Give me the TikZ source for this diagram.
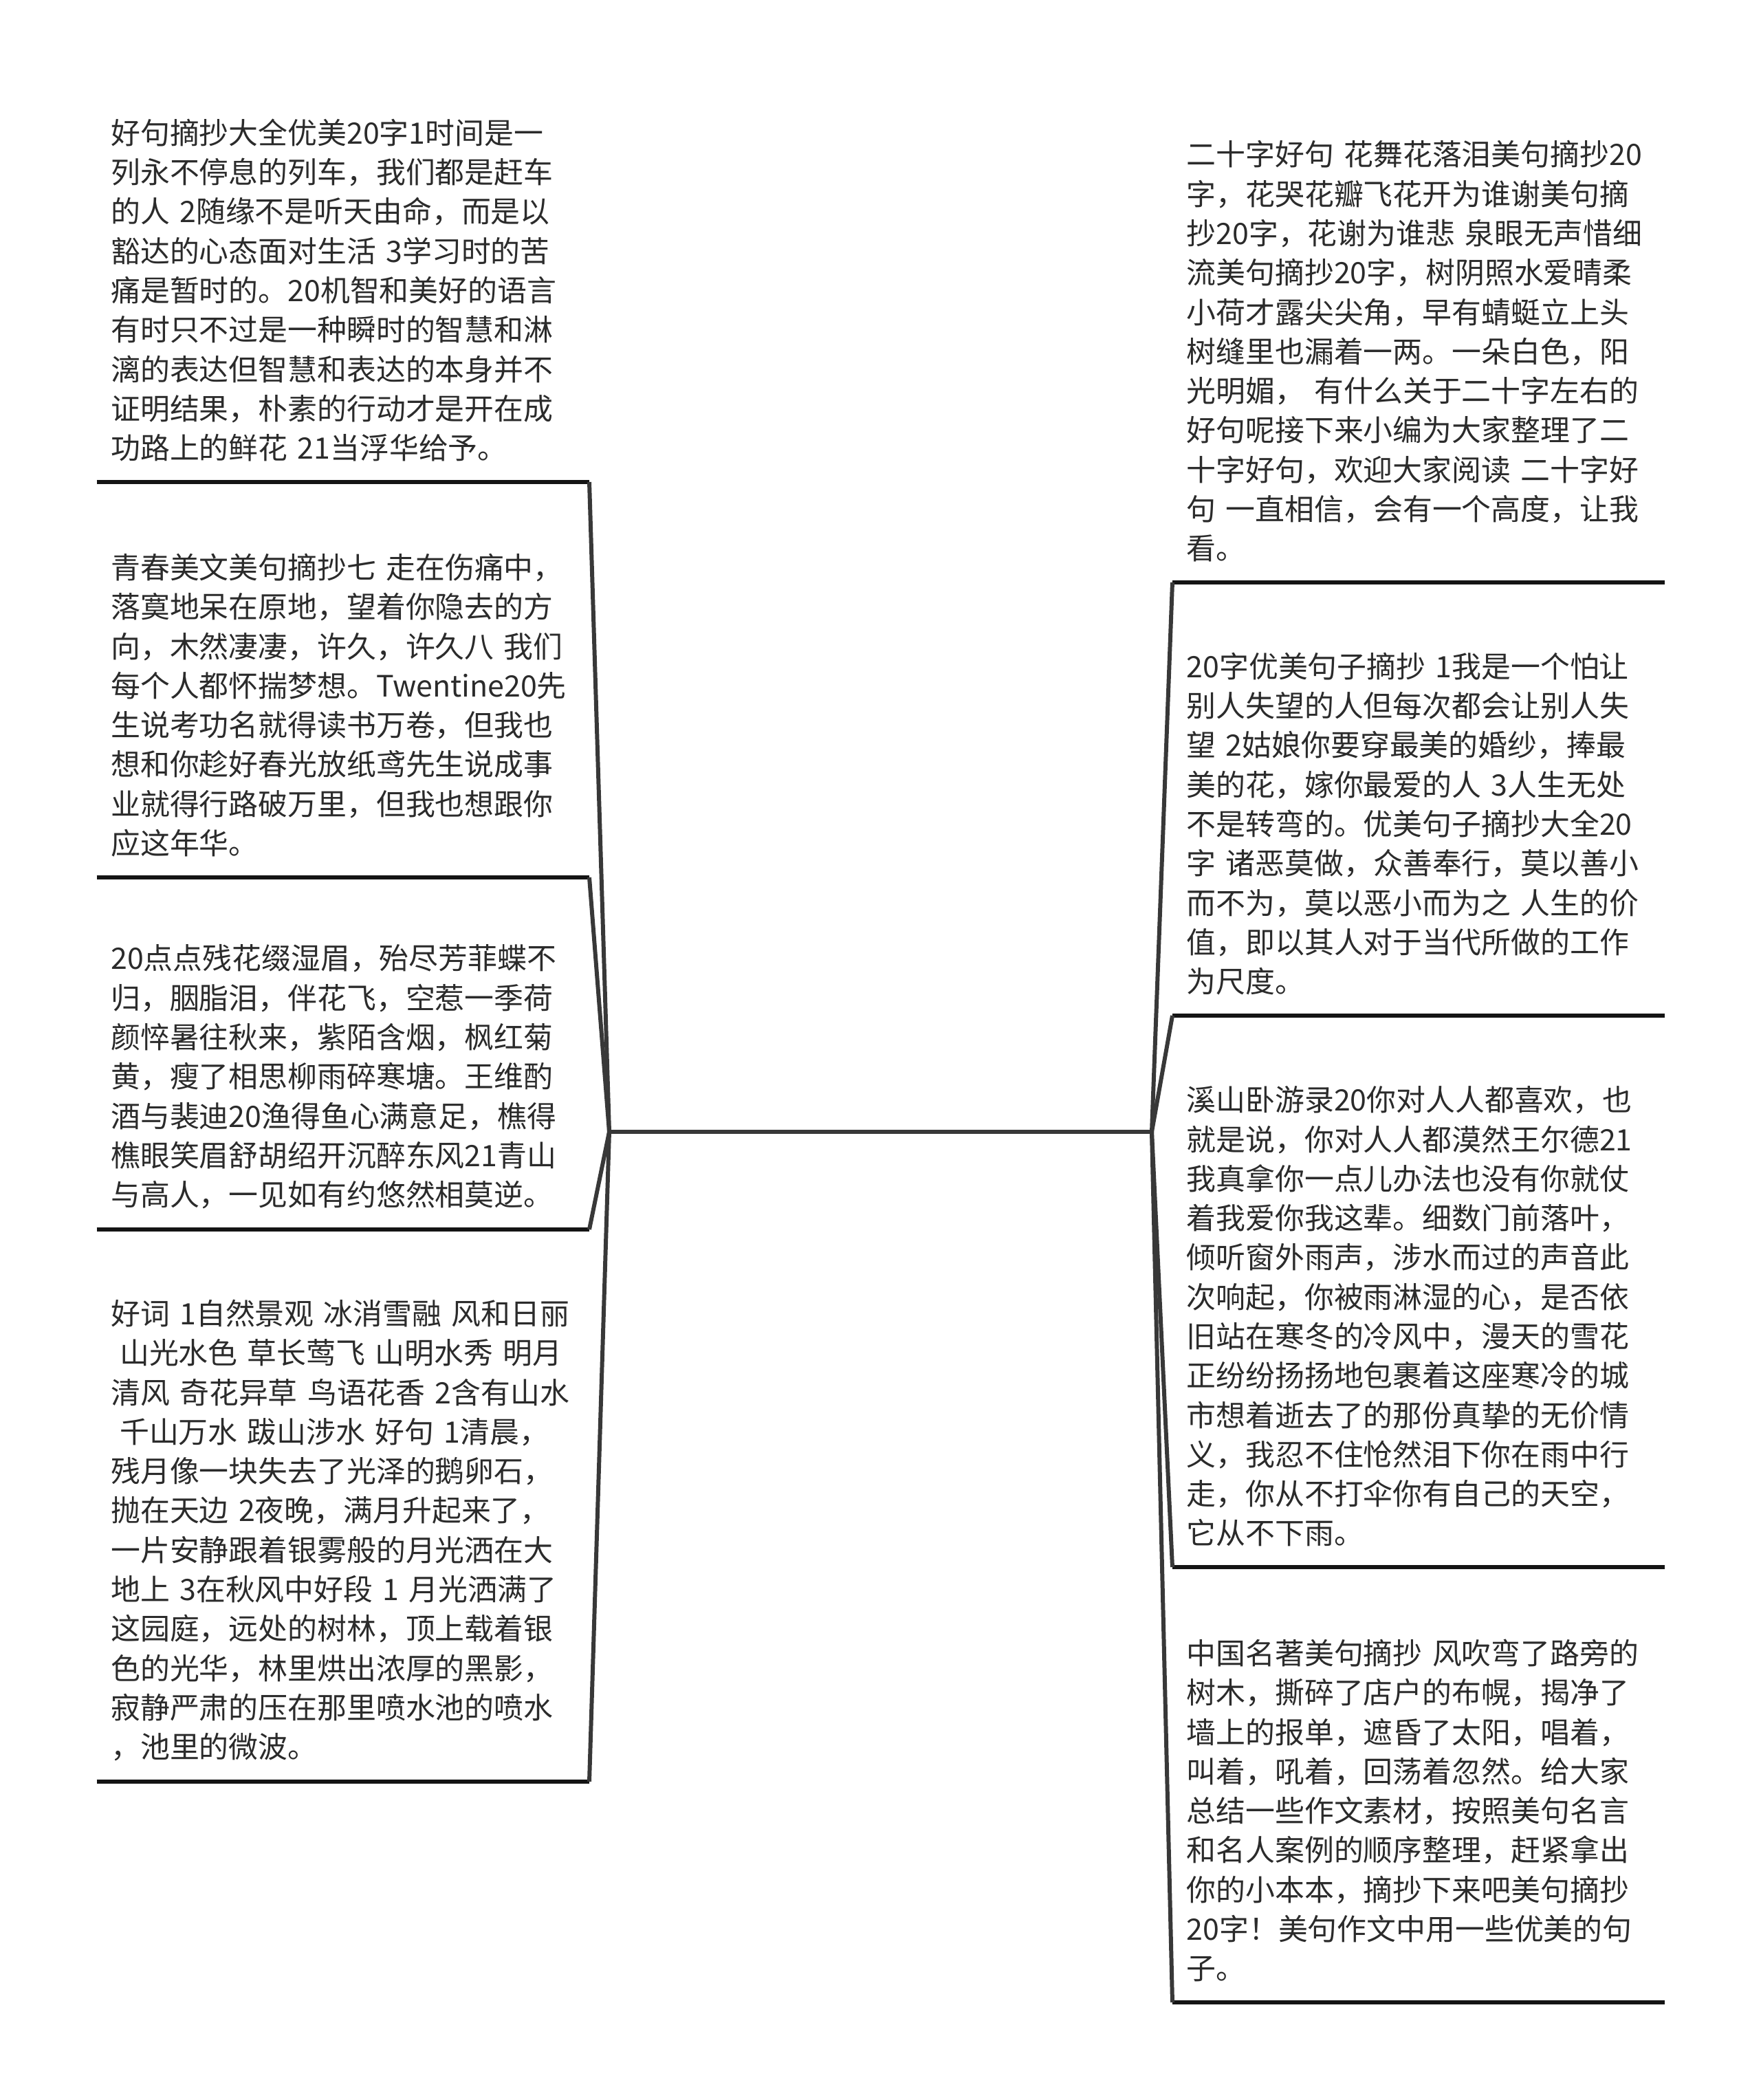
\documentclass[tikz,border=0pt]{standalone}
\usepackage{fontspec}
\setmainfont{Noto Sans CJK SC}
\usepackage{tikz}
\usetikzlibrary{positioning}
\definecolor{txtgray}{HTML}{2B2B2B}
\definecolor{linkgray}{HTML}{383838}
\tikzset{
  leaf/.style={text width=6.75cm, inner xsep=0.2cm, inner ysep=0.29cm, align=left,
    text=txtgray, font={\fontsize{12.2pt}{16.3pt}\selectfont}},
  uline/.style={line width=1.5pt, black!92},
  link/.style={line width=1.7pt, linkgray}
}

\begin{document}
\begin{tikzpicture}
\useasboundingbox (0,0) rectangle (25.6,30.54);

% the two ends of the (empty) root
\coordinate (lj) at (8.86,14.08);
\coordinate (rj) at (16.75,14.08);

% left side
\node[leaf, anchor=south east] (l1) at (8.57,23.53) {好句摘抄大全优美20字1时间是一\\
列永不停息的列车，我们都是赶车\\
的人 2随缘不是听天由命，而是以\\
豁达的心态面对生活 3学习时的苦\\
痛是暂时的。20机智和美好的语言\\
有时只不过是一种瞬时的智慧和淋\\
漓的表达但智慧和表达的本身并不\\
证明结果，朴素的行动才是开在成\\
功路上的鲜花 21当浮华给予。};

\node[leaf, anchor=south east] (l2) at (8.57,17.78) {青春美文美句摘抄七 走在伤痛中，\\
落寞地呆在原地，望着你隐去的方\\
向，木然凄凄，许久，许久八 我们\\
每个人都怀揣梦想。Twentine20先\\
生说考功名就得读书万卷，但我也\\
想和你趁好春光放纸鸢先生说成事\\
业就得行路破万里，但我也想跟你\\
应这年华。};

\node[leaf, anchor=south east] (l3) at (8.57,12.66) {20点点残花缀湿眉，殆尽芳菲蝶不\\
归，胭脂泪，伴花飞，空惹一季荷\\
颜悴暑往秋来，紫陌含烟，枫红菊\\
黄，瘦了相思柳雨碎寒塘。王维酌\\
酒与裴迪20渔得鱼心满意足，樵得\\
樵眼笑眉舒胡绍开沉醉东风21青山\\
与高人，一见如有约悠然相莫逆。};

\node[leaf, anchor=south east] (l4) at (8.57,4.63) {好词 1自然景观 冰消雪融 风和日丽\\
\hspace*{0.3em}山光水色 草长莺飞 山明水秀 明月\\
清风 奇花异草 鸟语花香 2含有山水\\
\hspace*{0.3em}千山万水 跋山涉水 好句 1清晨，\\
残月像一块失去了光泽的鹅卵石，\\
抛在天边 2夜晚，满月升起来了，\\
一片安静跟着银雾般的月光洒在大\\
地上 3在秋风中好段 1 月光洒满了\\
这园庭，远处的树林，顶上载着银\\
色的光华，林里烘出浓厚的黑影，\\
寂静严肃的压在那里喷水池的喷水\\
，池里的微波。};

% right side
\node[leaf, anchor=south west] (r1) at (17.05,22.07) {二十字好句 花舞花落泪美句摘抄20\\
字，花哭花瓣飞花开为谁谢美句摘\\
抄20字，花谢为谁悲 泉眼无声惜细\\
流美句摘抄20字，树阴照水爱晴柔\\
小荷才露尖尖角，早有蜻蜓立上头\\
树缝里也漏着一两。一朵白色，阳\\
光明媚，\ 有什么关于二十字左右的\\
好句呢接下来小编为大家整理了二\\
十字好句，欢迎大家阅读 二十字好\\
句 一直相信，会有一个高度，让我\\
看。};

\node[leaf, anchor=south west] (r2) at (17.05,15.77) {20字优美句子摘抄 1我是一个怕让\\
别人失望的人但每次都会让别人失\\
望 2姑娘你要穿最美的婚纱，捧最\\
美的花，嫁你最爱的人 3人生无处\\
不是转弯的。优美句子摘抄大全20\\
字 诸恶莫做，众善奉行，莫以善小\\
而不为，莫以恶小而为之 人生的价\\
值，即以其人对于当代所做的工作\\
为尺度。};

\node[leaf, anchor=south west] (r3) at (17.05,7.75) {溪山卧游录20你对人人都喜欢，也\\
就是说，你对人人都漠然王尔德21\\
我真拿你一点儿办法也没有你就仗\\
着我爱你我这辈。细数门前落叶，\\
倾听窗外雨声，涉水而过的声音此\\
次响起，你被雨淋湿的心，是否依\\
旧站在寒冬的冷风中，漫天的雪花\\
正纷纷扬扬地包裹着这座寒冷的城\\
市想着逝去了的那份真挚的无价情\\
义，我忍不住怆然泪下你在雨中行\\
走，你从不打伞你有自己的天空，\\
它从不下雨。};

\node[leaf, anchor=south west] (r4) at (17.05,1.42) {中国名著美句摘抄 风吹弯了路旁的\\
树木，撕碎了店户的布幌，揭净了\\
墙上的报单，遮昏了太阳，唱着，\\
叫着，吼着，回荡着忽然。给大家\\
总结一些作文素材，按照美句名言\\
和名人案例的顺序整理，赶紧拿出\\
你的小本本，摘抄下来吧美句摘抄\\
20字！美句作文中用一些优美的句\\
子。};

\foreach \n in {l1,l2,l3,l4,r1,r2,r3,r4}
  \draw[uline] (\n.south west) -- (\n.south east);

\draw[link] (lj) -- (rj);
\foreach \n in {l1,l2,l3,l4}
  \draw[link] (lj) -- (\n.south east);
\foreach \n in {r1,r2,r3,r4}
  \draw[link] (rj) -- (\n.south west);
\end{tikzpicture}
\end{document}
